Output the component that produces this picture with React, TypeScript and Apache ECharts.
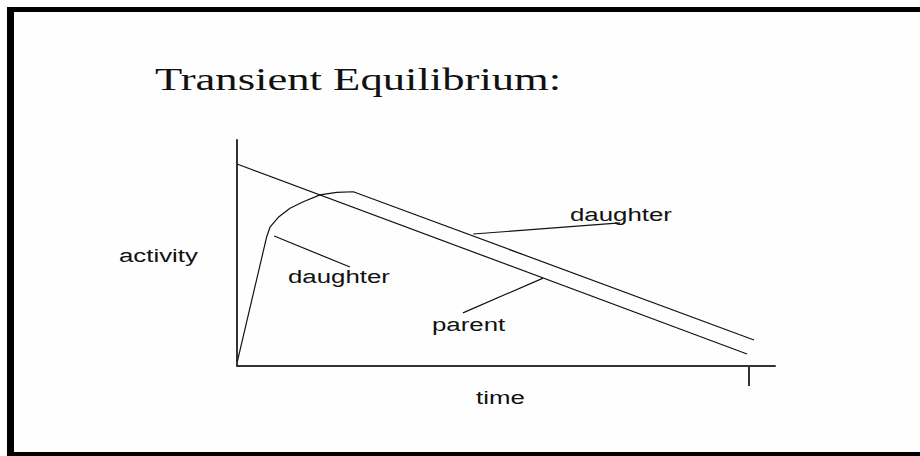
import React, { useEffect, useRef } from "react";
import * as echarts from "echarts";

// ---- data (chart units: x = time 0..100, y = activity 0..100) ----
const PARENT_X = [0, 94.8];
const PARENT_Y = [89.4, 5.3];
const DAUGHTER_X = [0.06, 5.52, 6.13, 7.68, 9.85, 12.32, 15.43, 18.53, 21.62, 96.1];
const DAUGHTER_Y = [1.9, 57.2, 61.4, 65.8, 69.8, 72.7, 75.7, 76.8, 77.1, 11.5];
const LEADER_UPPER_X = [43.9, 71.2];
const LEADER_UPPER_Y = [58.4, 63.3];
const LEADER_LOWER_X = [6.9, 21.0];
const LEADER_LOWER_Y = [57.5, 43.8];
const LEADER_PARENT_X = [42.0, 56.9];
const LEADER_PARENT_Y = [23.5, 38.9];
const TIME_TICKS = [95.2];

const TITLE = "Transient Equilibrium:";
const Y_NAME = "activity";
const X_NAME = "time";
const LABEL_DAUGHTER = "daughter";
const LABEL_PARENT = "parent";

const zip = (xs: number[], ys: number[]) => xs.map((x, i) => [x, ys[i]]);

export default function App() {
  const ref = useRef<HTMLDivElement>(null);
  useEffect(() => {
    if (!ref.current) return;
    const chart = echarts.init(ref.current, null, { renderer: "svg" });
    const ink = "#111";
    const sans = "'Liberation Sans', Arial, sans-serif";
    const serif = "'Liberation Serif', 'Times New Roman', serif";
    const SX = 1.36;
    const lineSeries = (name: string, data: number[][]) => ({
      type: "line",
      name,
      data,
      symbol: "none",
      silent: true,
      lineStyle: { color: ink, width: 1.2 },
    });
    const txt = (text: string, x: number, y: number, size: number, family: string, sx: number) => ({
      type: "text",
      x,
      y,
      scaleX: sx,
      silent: true,
      style: {
        text,
        x: 0,
        y: 0,
        fill: ink,
        font: `${size}px ${family}`,
        align: "left",
        verticalAlign: "middle",
      },
    });
    chart.setOption({
      animation: false,
      backgroundColor: "#fdfefd",
      grid: { left: 237, top: 140, width: 538, height: 226 },
      xAxis: {
        type: "value",
        min: 0,
        max: 100,
        axisLine: { show: true, lineStyle: { color: "#333", width: 2 } },
        axisTick: {
          show: true,
          customValues: TIME_TICKS,
          length: 20,
          lineStyle: { color: "#333", width: 2 },
        },
        axisLabel: { show: false },
        splitLine: { show: false },
      },
      yAxis: {
        type: "value",
        min: 0,
        max: 100,
        axisLine: { show: true, lineStyle: { color: "#333", width: 2 } },
        axisTick: { show: false },
        axisLabel: { show: false },
        splitLine: { show: false },
      },
      series: [
        lineSeries("parent", zip(PARENT_X, PARENT_Y)),
        lineSeries("daughter", zip(DAUGHTER_X, DAUGHTER_Y)),
        lineSeries("leader-upper", zip(LEADER_UPPER_X, LEADER_UPPER_Y)),
        lineSeries("leader-lower", zip(LEADER_LOWER_X, LEADER_LOWER_Y)),
        lineSeries("leader-parent", zip(LEADER_PARENT_X, LEADER_PARENT_Y)),
      ],
      graphic: [
        { type: "rect", shape: { x: 7, y: 7, width: 7, height: 449 }, style: { fill: "#000" }, silent: true },
        { type: "rect", shape: { x: 7, y: 7, width: 913, height: 5 }, style: { fill: "#000" }, silent: true },
        { type: "rect", shape: { x: 7, y: 452, width: 913, height: 4 }, style: { fill: "#000" }, silent: true },
        txt(TITLE, 155, 79, 32, serif, 1.395),
        txt(Y_NAME, 119, 255.5, 19, sans, SX),
        txt(X_NAME, 476, 397.5, 19, sans, SX),
        txt(LABEL_DAUGHTER, 570, 214.5, 19, sans, SX),
        txt(LABEL_DAUGHTER, 288, 276, 19, sans, SX),
        txt(LABEL_PARENT, 432, 324, 19, sans, SX),
      ],
    });
    return () => chart.dispose();
  }, []);
  return (
    <div
      ref={ref}
      style={{ position: "fixed", left: 0, top: 0, width: 920, height: 456, background: "#fdfefd" }}
    />
  );
}
